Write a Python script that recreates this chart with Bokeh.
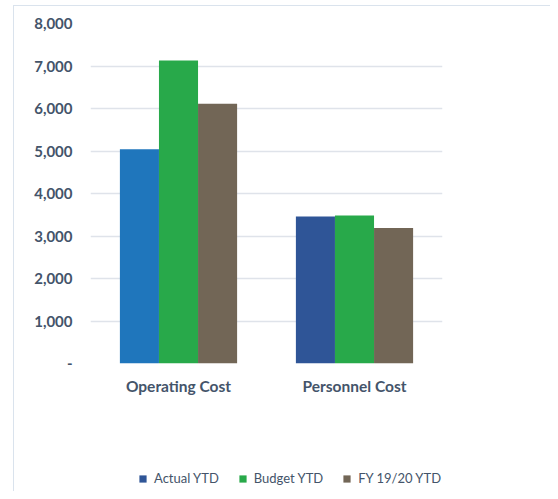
import numpy as np
from bokeh.plotting import figure
from bokeh.layouts import column
from bokeh.models import ColumnDataSource, FactorRange, Range1d, FixedTicker, Legend, LegendItem
from bokeh.transform import dodge
from bokeh.embed import file_html
from bokeh.resources import INLINE

categories = ["Operating Cost", "Personnel Cost"]
series = ["Actual YTD", "Budget YTD", "FY 19/20 YTD"]
actual_ytd = [5040, 3460]
budget_ytd = [7130, 3480]
fy_1920_ytd = [6110, 3190]
y_ticks = [0, 1000, 2000, 3000, 4000, 5000, 6000, 7000, 8000]

actual_colors = ["#1F76BC", "#2F5597"]
legend_colors = ["#2F5597", "#28A94A", "#726656"]
budget_color = "#28A94A"
fy_color = "#726656"

src = ColumnDataSource(dict(cat=categories, actual=actual_ytd, budget=budget_ytd,
                            fy=fy_1920_ytd, acol=actual_colors))

p = figure(x_range=FactorRange(*categories), y_range=Range1d(0, 8000),
           width=536, height=400, output_backend="svg", toolbar_location=None,
           min_border_left=76, min_border_right=108, min_border_top=17, min_border_bottom=43)
p.outline_line_color = None
p.background_fill_color = "white"
p.border_fill_color = "white"

w = 0.222
r1 = p.vbar(x=dodge("cat", -w, range=p.x_range), top="actual", width=w, source=src,
            fill_color="acol", line_color=None)
r2 = p.vbar(x=dodge("cat", 0, range=p.x_range), top="budget", width=w, source=src,
            fill_color=budget_color, line_color=None)
r3 = p.vbar(x=dodge("cat", w, range=p.x_range), top="fy", width=w, source=src,
            fill_color=fy_color, line_color=None)

p.xgrid.grid_line_color = None
p.ygrid.grid_line_color = "#dfe3ea"
p.ygrid.grid_line_width = 1.5
p.ygrid.ticker = FixedTicker(ticks=y_ticks)

p.yaxis.ticker = FixedTicker(ticks=y_ticks)
p.yaxis.major_label_overrides = {t: ("-" if t == 0 else f"{t:,}") for t in y_ticks}
p.yaxis.axis_line_color = None
p.yaxis.major_tick_line_color = None
p.yaxis.minor_tick_line_color = None
p.yaxis.major_label_standoff = 12
p.yaxis.major_label_text_font = "Lato"
p.yaxis.major_label_text_font_style = "bold"
p.yaxis.major_label_text_font_size = "15px"
p.yaxis.major_label_text_color = "#44546A"

p.xaxis.axis_line_color = None
p.xaxis.major_tick_line_color = None
p.xaxis.major_label_standoff = 7
p.xaxis.major_label_text_font = "Lato"
p.xaxis.major_label_text_font_style = "bold"
p.xaxis.major_label_text_font_size = "15.5px"
p.xaxis.major_label_text_color = "#44546A"

# legend strip
lf = figure(width=536, height=85, x_range=Range1d(0, 1), y_range=Range1d(0, 1),
            output_backend="svg", toolbar_location=None,
            x_axis_location=None, y_axis_location=None,
            min_border_left=0, min_border_right=0, min_border_top=0, min_border_bottom=0)
lf.outline_line_color = None
lf.xgrid.visible = False
lf.ygrid.visible = False
lf.border_fill_color = "white"
items = []
for name, col in zip(series, legend_colors):
    r = lf.rect(x=[np.nan], y=[np.nan], width=0.1, height=0.1, fill_color=col, line_color=None)
    items.append(LegendItem(label=name, renderers=[r]))
legend = Legend(items=items, orientation="horizontal", location=(48, 5),
                glyph_width=9, glyph_height=9, label_height=13, label_standoff=7,
                spacing=19, padding=0, margin=0, border_line_color=None,
                background_fill_alpha=0,
                label_text_font="Lato", label_text_font_size="13px", label_text_color="#44546A")
lf.add_layout(legend, "center")

layout = column(p, lf, spacing=0)
layout.styles = {"margin-left": "13px", "margin-top": "5px",
                 "border-left": "1px solid #dae3ed", "border-top": "1px solid #dae3ed"}

open("out.html", "w").write(file_html(layout, INLINE))
